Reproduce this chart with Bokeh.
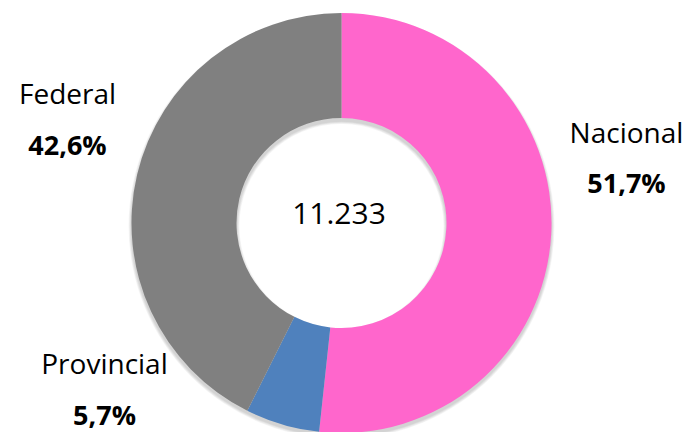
from bokeh.plotting import figure
from bokeh.models import Range1d, ColumnDataSource
from bokeh.core.properties import value
from bokeh.embed import file_html
from bokeh.resources import INLINE
import math

# ---- data ----
categories = ["Nacional", "Provincial", "Federal"]
shares = [51.7, 5.7, 42.6]
pct_labels = ["51,7%", "5,7%", "42,6%"]
total_label = "11.233"

# ---- style / layout ----
colors = ["#FF66CC", "#4F81BD", "#808080"]
W, H = 690, 432
CX, CY = 341, 432 - 222.5          # page coords, y measured upward
R_OUT, R_IN = 210, 105
FONT = "Open Sans"
# label anchor positions (page px from top)
label_x = [626, 104, 67]
name_base = [131, 362, 92]
pct_base = [182, 414, 144]
center_base = 213

p = figure(width=W, height=H, output_backend="svg", toolbar_location=None,
           x_range=Range1d(0, W), y_range=Range1d(0, H),
           min_border=0)
p.axis.visible = False
p.grid.visible = False
p.outline_line_color = None
p.background_fill_color = "white"
p.border_fill_color = "white"

# soft shadow (offset downward)
for k in range(1, 6):
    p.annulus(x=[CX], y=[CY - 3], inner_radius=R_IN - k * 0.6, outer_radius=R_OUT + k * 0.6,
              fill_color="black", fill_alpha=0.035, line_color=None)

# wedges, clockwise from the top
tot = sum(shares)
starts, ends = [], []
a = 90.0
for s in shares:
    starts.append(math.radians(a))
    a -= s / tot * 360.0
    ends.append(math.radians(a))

src = ColumnDataSource(dict(start=starts, end=ends, color=colors, cat=categories))
p.annular_wedge(x=CX, y=CY, inner_radius=R_IN, outer_radius=R_OUT,
                start_angle="start", end_angle="end", direction="clock",
                fill_color="color", line_color=None, source=src)

# category labels
p.text(x=label_x, y=[432 - b for b in name_base], text=categories,
       text_font=value(FONT), text_font_size="28px", text_color="#000000",
       text_align="center", text_baseline="alphabetic")
p.text(x=label_x, y=[432 - b for b in pct_base], text=pct_labels,
       text_font=value(FONT), text_font_size="27px", text_font_style="bold",
       text_color="#000000", text_align="center", text_baseline="alphabetic")

# center total
p.text(x=[338.5], y=[432 - center_base], text=[total_label],
       text_font=value(FONT), text_font_size="30px", text_color="#000000",
       text_align="center", text_baseline="alphabetic")

open("out.html", "w").write(file_html(p, INLINE))
